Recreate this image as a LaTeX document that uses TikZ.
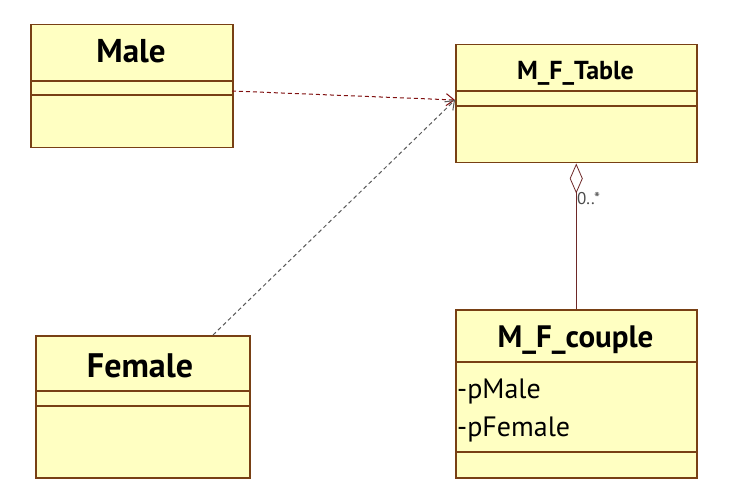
\documentclass[tikz,border=0pt]{standalone}
\usepackage{fontspec}
\setmainfont{PT Sans}
\usetikzlibrary{arrows.meta}
\definecolor{clsfill}{RGB}{255,255,194}
\definecolor{clsdraw}{RGB}{120,64,20}
\definecolor{deprd}{RGB}{128,16,16}
\definecolor{depgr}{RGB}{90,90,90}
\definecolor{aggc}{RGB}{110,40,40}
\tikzset{
  cls/.style={draw=clsdraw, fill=clsfill, line width=1.5pt, anchor=north west, inner sep=0pt},
  sep/.style={draw=clsdraw, line width=1.5pt},
  ttl/.style={font=\bfseries, inner sep=0pt, anchor=base},
  attr/.style={inner sep=0pt, anchor=base west, font=\fontsize{28}{32}\selectfont},
  dep/.style={dashed, dash pattern=on 4pt off 3pt, line width=1pt, -{Straight Barb[length=8pt,width=12pt,line width=1pt]}},
}
\begin{document}
\begin{tikzpicture}[x=1pt,y=-1pt]
\useasboundingbox[fill=white] (0,0) rectangle (730,502);
% Male
\node[cls, minimum width=202pt, minimum height=123pt] (male) at (30,24) {};
\draw[sep] (30,81) -- (232,81);
\draw[sep] (30,95) -- (232,95);
\node[ttl, font=\fontsize{33}{36}\selectfont\bfseries] (maleT) at (131,63) {Male};
% M_F_Table
\node[cls, minimum width=241pt, minimum height=118pt] (tbl) at (455,44) {};
\draw[sep] (455,91) -- (696,91);
\draw[sep] (455,106) -- (696,106);
\node[ttl, font=\fontsize{26}{30}\selectfont\bfseries] (tblT) at (575.5,80) {M\_F\_Table};
% Female
\node[cls, minimum width=214pt, minimum height=142pt] (fem) at (35,335) {};
\draw[sep] (35,391) -- (249,391);
\draw[sep] (35,406) -- (249,406);
\node[ttl, font=\fontsize{34}{38}\selectfont\bfseries] (femT) at (140,377) {Female};
% M_F_couple
\node[cls, minimum width=241pt, minimum height=168pt] (cpl) at (455,309) {};
\draw[sep] (455,362) -- (696,362);
\draw[sep] (455,452) -- (696,452);
\node[ttl, font=\fontsize{31}{34}\selectfont\bfseries] (cplT) at (575.5,347) {M\_F\_couple};
\node[attr] (a1) at (457,398) {-pMale};
\node[attr] (a2) at (457,436) {-pFemale};
% connectors
\coordinate (mOut) at (232,91);
\coordinate (tIn) at (455,100);
\coordinate (fOut) at (213,335);
\draw[dep, draw=deprd] (mOut) -- (tIn);
\draw[dep, draw=depgr] (fOut) -- (tIn);
\draw[aggc, line width=1pt, {Diamond[open,length=30pt,width=13pt,line width=0.8pt]}-] (tbl.south) -- (cpl.north);
\node[inner sep=0pt, anchor=west, font=\fontsize{17}{19}\selectfont, text=black!70] (mult) at (577,199) {0..*};
\end{tikzpicture}
\end{document}
